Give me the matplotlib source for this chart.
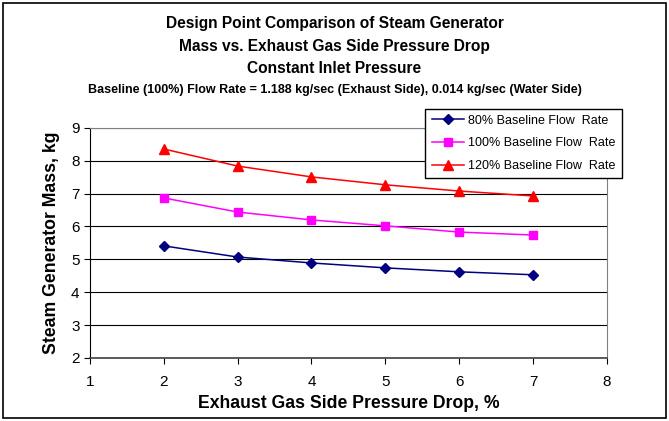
import matplotlib
matplotlib.use("Agg")
import matplotlib.pyplot as plt
from matplotlib.patches import Rectangle

# data
pressure_drop = [2, 3, 4, 5, 6, 7]
mass_80 = [5.41, 5.07, 4.89, 4.74, 4.62, 4.53]
mass_100 = [6.87, 6.44, 6.20, 6.02, 5.83, 5.74]
mass_120 = [8.36, 7.84, 7.51, 7.27, 7.08, 6.93]
series_labels = ["80% Baseline Flow  Rate", "100% Baseline Flow  Rate", "120% Baseline Flow  Rate"]
x_ticks = [1, 2, 3, 4, 5, 6, 7, 8]
y_ticks = [2, 3, 4, 5, 6, 7, 8, 9]

FONT = ["Liberation Sans", "DejaVu Sans"]
plt.rcParams["font.family"] = FONT

fig = plt.figure(figsize=(6.69, 4.21), dpi=100)
fig.patch.set_facecolor("white")
fig.patches.append(Rectangle((0.004, 0.006), 0.992, 0.988, transform=fig.transFigure,
                             fill=False, edgecolor="black", linewidth=1.2))

ax = fig.add_axes([0.1345, 0.150, 0.7725, 0.546])
ax.set_xlim(1, 8)
ax.set_ylim(2, 9)
ax.set_xticks(x_ticks)
ax.set_yticks(y_ticks)
ax.yaxis.grid(True, color="black", linewidth=0.8)
ax.set_axisbelow(True)
for side in ("top", "right"):
    ax.spines[side].set_color("#808080")
ax.spines["left"].set_color("black")
ax.spines["bottom"].set_color("#404040")
ax.spines["bottom"].set_linewidth(1.2)
ax.tick_params(axis="both", direction="out", length=4, labelsize=11, colors="black")
ax.tick_params(axis="x", pad=8)

ax.plot(pressure_drop, mass_80, color="#000080", marker="D", markersize=5.5, linewidth=1.1,
        label=series_labels[0])
ax.plot(pressure_drop, mass_100, color="#FF00FF", marker="s", markersize=6, linewidth=1.1,
        label=series_labels[1])
ax.plot(pressure_drop, mass_120, color="#FF0000", marker="^", markersize=7, linewidth=1.1,
        label=series_labels[2])

ax.set_xlabel("Exhaust Gas Side Pressure Drop, %", fontsize=12.7, fontweight="bold", labelpad=5)
ax.set_ylabel("Steam Generator Mass, kg", fontsize=12.7, fontweight="bold", labelpad=8)

leg = fig.legend(loc="upper left", bbox_to_anchor=(0.636, 0.742), fontsize=9,
                 frameon=True, fancybox=False, edgecolor="black", framealpha=1,
                 borderpad=0.5, labelspacing=0.85, handlelength=2.6, handletextpad=0.3,
                 borderaxespad=0)
leg.get_frame().set_linewidth(1.0)

fig.text(0.5, 0.943, "Design Point Comparison of Steam Generator", ha="center", va="center",
         fontsize=11.2, fontweight="bold")
fig.text(0.5, 0.890, "Mass vs. Exhaust Gas Side Pressure Drop", ha="center", va="center",
         fontsize=11.2, fontweight="bold")
fig.text(0.5, 0.838, "Constant Inlet Pressure", ha="center", va="center",
         fontsize=11.2, fontweight="bold")
fig.text(0.5, 0.786, "Baseline (100%) Flow Rate = 1.188 kg/sec (Exhaust Side), 0.014 kg/sec (Water Side)",
         ha="center", va="center", fontsize=9, fontweight="bold")

fig.savefig("out.png", dpi=100)
